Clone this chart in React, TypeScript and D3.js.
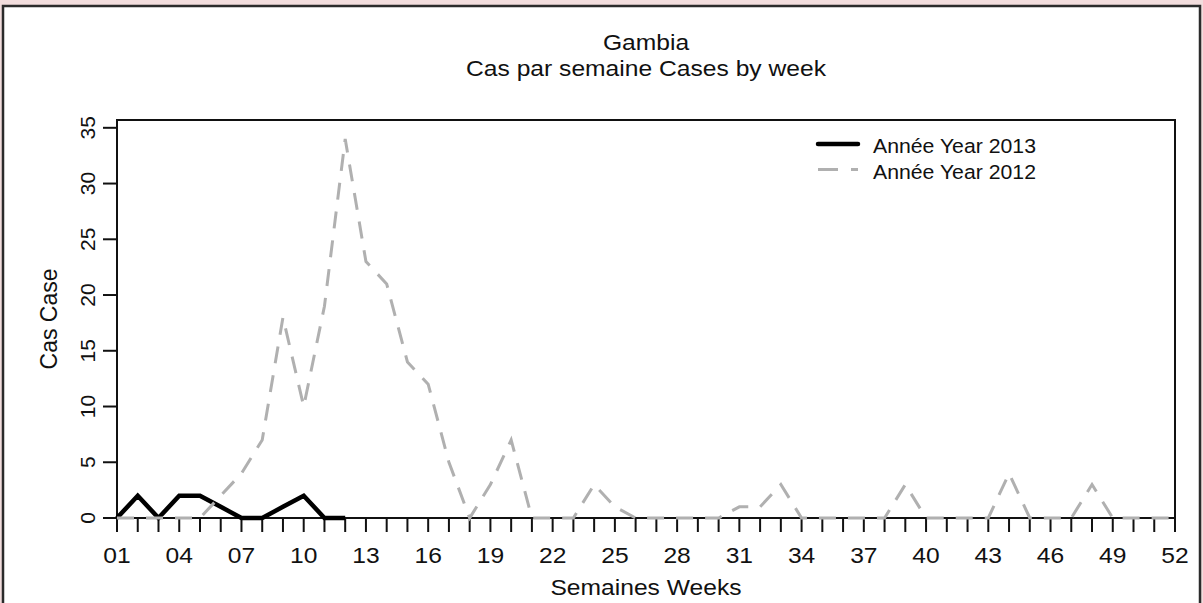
import React from "react";
import * as d3 from "d3";

const weeks: number[] = d3.range(1, 53);
const cases2013: number[] = [0, 2, 0, 2, 2, 1, 0, 0, 1, 2, 0, 0];
const cases2012: number[] = [
  0, 0, 0, 0, 0, 2, 4, 7, 18, 10, 19, 34, 23, 21, 14, 12, 5, 0, 3, 7, 0, 0, 0, 3, 1, 0,
  0, 0, 0, 0, 1, 1, 3, 0, 0, 0, 0, 0, 3, 0, 0, 0, 0, 4, 0, 0, 0, 3, 0, 0, 0, 0,
];
const yTicks: number[] = [0, 5, 10, 15, 20, 25, 30, 35];
const xLabelWeeks: number[] = d3.range(1, 53, 3);
const title1 = "Gambia";
const title2 = "Cas par semaine Cases by week";
const xTitle = "Semaines Weeks";
const yTitle = "Cas Case";
const legendLabels: string[] = ["Année Year 2013", "Année Year 2012"];

const FONT = "'Liberation Sans', Arial, Helvetica, sans-serif";

const L = 117, R = 1175, T = 120, B = 518;

function HText(props: { x: number; y: number; size: number; sx?: number; anchor?: string; children: string }) {
  const { x, y, size, sx = 1.12, anchor = "middle", children } = props;
  return (
    <text
      transform={`translate(${x},${y}) scale(${sx},1)`}
      fontSize={size}
      textAnchor={anchor}
      fontFamily={FONT}
      fill="#111"
    >
      {children}
    </text>
  );
}

export default function App() {
  const x = d3.scaleLinear().domain([1, 52]).range([L, R]);
  const y = d3.scaleLinear().domain([0, 35.7]).range([B, T]);

  const line = d3
    .line<number>()
    .x((_, i) => x(weeks[i]))
    .y((d) => y(d));

  const cx = (L + R) / 2;
  const cy = (T + B) / 2;

  return (
    <svg
      width={1203}
      height={603}
      style={{ position: "absolute", left: 0, top: 0, display: "block" }}
    >
      <rect x={0} y={0} width={1203} height={603} fill="#f2dddd" />
      <rect x={3} y={6} width={1197} height={640} fill="#fff" stroke="#2b2b2b" strokeWidth={2.5} />

      {/* titles */}
      <HText x={cx} y={49.5} size={22}>{title1}</HText>
      <HText x={cx} y={76} size={22}>{title2}</HText>

      {/* plot box */}
      <rect x={L} y={T} width={R - L} height={B - T} fill="none" stroke="#111" strokeWidth={2} />

      {/* x ticks */}
      {weeks.map((w) => (
        <line key={"xt" + w} x1={x(w)} x2={x(w)} y1={B} y2={B + 14} stroke="#111" strokeWidth={2} />
      ))}
      {xLabelWeeks.map((w) => (
        <HText key={"xl" + w} x={x(w)} y={563} size={22}>
          {String(w).padStart(2, "0")}
        </HText>
      ))}
      <HText x={cx} y={595} size={22}>{xTitle}</HText>

      {/* y ticks */}
      {yTicks.map((v) => (
        <line key={"yt" + v} x1={L - 14} x2={L} y1={y(v)} y2={y(v)} stroke="#111" strokeWidth={2} />
      ))}
      {yTicks.map((v) => (
        <text
          key={"yl" + v}
          transform={`translate(95,${y(v)}) rotate(-90)`}
          fontSize={21}
          textAnchor="middle"
          fontFamily={FONT}
          fill="#111"
        >
          {String(v)}
        </text>
      ))}
      <text
        transform={`translate(56.5,${cy}) rotate(-90)`}
        fontSize={23}
        textAnchor="middle"
        fontFamily={FONT}
        fill="#111"
      >
        {yTitle}
      </text>

      {/* series */}
      <path d={line(cases2013) || ""} fill="none" stroke="#000" strokeWidth={4.5} strokeLinejoin="miter" />
      <path
        d={line(cases2012) || ""}
        fill="none"
        stroke="#b0b0b0"
        strokeWidth={3}
        strokeDasharray="17,12"
      />

      {/* legend */}
      <line x1={818} x2={858} y1={144} y2={144} stroke="#000" strokeWidth={4.5} strokeLinecap="round" />
      <line x1={818} x2={858} y1={169.5} y2={169.5} stroke="#b0b0b0" strokeWidth={3} strokeDasharray="20,13" />
      <HText x={873} y={153} size={19.5} sx={1.09} anchor="start">{legendLabels[0]}</HText>
      <HText x={873} y={178.5} size={19.5} sx={1.09} anchor="start">{legendLabels[1]}</HText>
    </svg>
  );
}
